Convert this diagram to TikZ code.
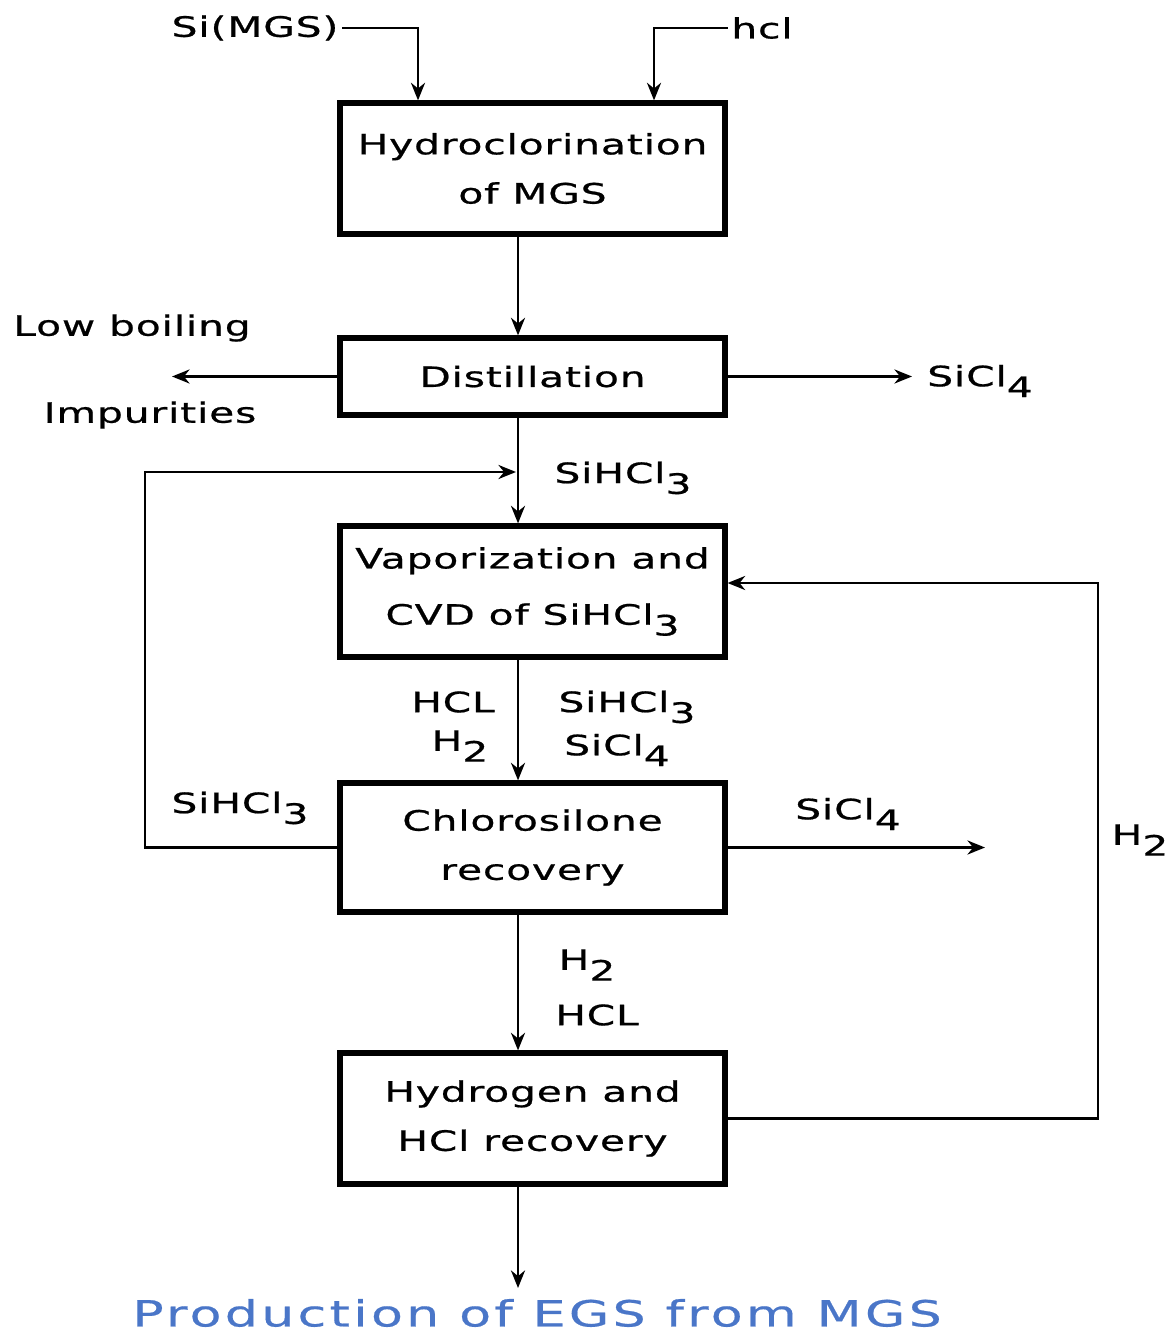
\documentclass[tikz,border=0pt]{standalone}
\usepackage{fontspec}
\setmainfont{DejaVu Sans}[FakeStretch=1.45,LetterSpace=3,FakeBold=0.7]
\newfontfamily\titlefont{DejaVu Sans}[FakeStretch=1.45,LetterSpace=9,FakeBold=0.5]
\usetikzlibrary{arrows.meta}
\definecolor{egsblue}{RGB}{74,118,200}
\newcommand{\low}[1]{\raisebox{-0.7ex}{#1}}

\begin{document}
\begin{tikzpicture}[x=0.02cm,y=-0.02cm,font=\fontsize{16}{28}\selectfont,
        unit/.style={draw, line width=3pt, minimum width=7.7cm, align=center, inner sep=0pt},
        flow/.style={line width=1.5pt, -{Stealth[length=10pt,width=8pt]}},
        lbl/.style={inner sep=2pt}]
        \useasboundingbox (0,0) rectangle (1175,1337);

        % process units
        \node[unit, minimum height=2.62cm] (hyd)  at (532.5,168.5)  {Hydroclorination\\of MGS};
        \node[unit, minimum height=1.54cm] (dist) at (532.5,376.5)  {Distillation};
        \node[unit, minimum height=2.62cm] (vap)  at (532.5,591.5)  {Vaporization and\\[4pt]CVD of SiHCl\low{3}};
        \node[unit, minimum height=2.58cm] (chl)  at (532.5,847.5)  {Chlorosilone\\recovery};
        \node[unit, minimum height=2.62cm] (hrec) at (532.5,1118.5) {Hydrogen and\\HCl recovery};

        % stream labels
        \node[lbl] (mgs)    at (255,28)   {Si(MGS)};
        \node[lbl] (hcl)    at (762,28)   {hcl};
        \node[lbl] (lowb)   at (132,328)  {Low boiling};
        \node[lbl] (imp)    at (150,415)  {Impurities};
        \node[lbl] (sicla)  at (980,381)  {SiCl\low{4}};
        \node[lbl] (sihcla) at (623,478)  {SiHCl\low{3}};
        \node[lbl] (hcla)   at (453,702)  {HCL};
        \node[lbl] (hha)    at (460,746)  {H\low{2}};
        \node[lbl] (sihclb) at (627,707)  {SiHCl\low{3}};
        \node[lbl] (siclb)  at (617,750)  {SiCl\low{4}};
        \node[lbl] (sihclc) at (240,808)  {SiHCl\low{3}};
        \node[lbl] (siclc)  at (848,814)  {SiCl\low{4}};
        \node[lbl] (hhb)    at (1140,840) {H\low{2}};
        \node[lbl] (hhc)    at (587,965)  {H\low{2}};
        \node[lbl] (hclb)   at (597,1015) {HCL};
        \node[text=egsblue] (egs) at (537,1313) {\titlefont\fontsize{20.5}{22}\selectfont Production of EGS from MGS};

        \coordinate (sp)     at (518,0);
        \coordinate (mgsin)  at (418,0);
        \coordinate (hclin)  at (654,0);
        \coordinate (lowout) at (172,376.5);
        \coordinate (siout)  at (912,376.5);
        \coordinate (fbcorner) at (145,472);
        \coordinate (fb)     at (516,472);
        \coordinate (slout)  at (985,847.5);
        \coordinate (h2corner) at (1098,583);
        \coordinate (out)    at (518,1288);

        % connectors
        \draw[flow] (mgs.east) -| (hyd.north -| mgsin);
        \draw[flow] (hcl.west) -| (hyd.north -| hclin);
        \draw[flow] (hyd.south -| sp) -- (dist.north -| sp);
        \draw[flow] (dist.west) -- (lowout);
        \draw[flow] (dist.east) -- (siout);
        \draw[flow] (dist.south -| sp) -- (vap.north -| sp);
        \draw[flow] (chl.west) -| (fbcorner) -- (fb);
        \draw[flow] (vap.south -| sp) -- (chl.north -| sp);
        \draw[flow] (chl.east) -- (slout);
        \draw[flow] (chl.south -| sp) -- (hrec.north -| sp);
        \draw[flow] (hrec.east) -| (h2corner) -- (vap.east |- h2corner);
        \draw[flow] (hrec.south -| sp) -- (out);
\end{tikzpicture}
\end{document}
